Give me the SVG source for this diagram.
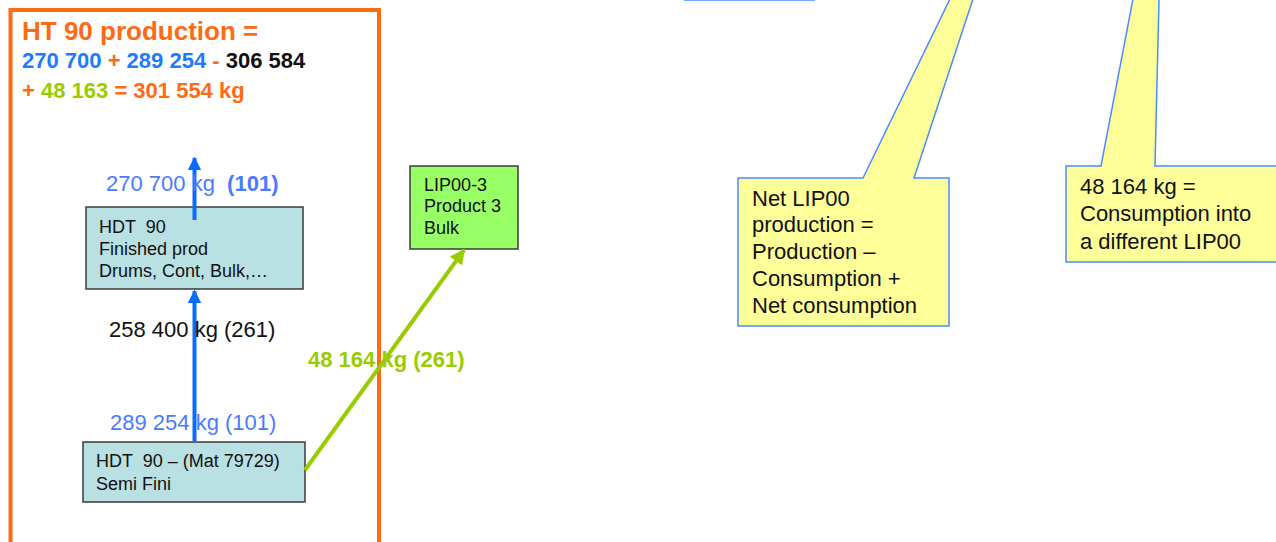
<svg xmlns="http://www.w3.org/2000/svg" width="1276" height="542" viewBox="0 0 1276 542">
<style>
text{font-family:"Liberation Sans",Arial,sans-serif}
.node{fill:#B9E0E3;stroke:#3a3a3a;stroke-width:1.5}
.lip{fill:#99FF66;stroke:#3a3a3a;stroke-width:1.5}
.call{fill:#FFFF99;stroke:#4A8CFF;stroke-width:1.5;stroke-linejoin:miter}
.t{font-size:18px;fill:#111}
.c{font-size:22px;fill:#111}
.lb{font-size:22px}
.blue{stroke:#0A6CFF;stroke-width:4;fill:none}
.green{stroke:#99CC00;stroke-width:4;fill:none}
</style>
<defs>
<marker id="ab" viewBox="0 0 10 10" refX="9" refY="5" markerWidth="3.4" markerHeight="3.6" orient="auto" markerUnits="strokeWidth"><path d="M0,0 L10,5 L0,10 z" fill="#0A6CFF"/></marker>
<marker id="ag" viewBox="0 0 10 10" refX="9" refY="5" markerWidth="3.8" markerHeight="4" orient="auto" markerUnits="strokeWidth"><path d="M0,0 L10,5 L0,10 z" fill="#99CC00"/></marker>
</defs>
<rect width="1276" height="542" fill="#fff"/>
<g id="frame">
<rect x="10.5" y="10" width="368.5" height="545" fill="none" stroke="#FF6A13" stroke-width="4"/>
<text x="22" y="40" font-size="26" font-weight="bold" fill="#FF6A13">HT 90 production =</text>
<text x="22" y="68" font-size="22" font-weight="bold"><tspan fill="#1E7BFF">270 700 </tspan><tspan fill="#FF6A13">+ </tspan><tspan fill="#1E7BFF">289 254 </tspan><tspan fill="#FF6A13">- </tspan><tspan fill="#111">306 584</tspan></text>
<text x="22" y="98" font-size="22" font-weight="bold"><tspan fill="#FF6A13">+ </tspan><tspan fill="#99CC00">48 163 </tspan><tspan fill="#FF6A13">= 301 554 kg</tspan></text>
</g>
<rect x="684" y="-2" width="131" height="3" fill="#6FA8FF"/>
<g id="hdt90">
<rect class="node" x="86" y="207" width="217" height="82"/>
<text class="t" x="99" y="233" xml:space="preserve">HDT  90</text>
<text class="t" x="99" y="255">Finished prod</text>
<text class="t" x="99" y="277">Drums, Cont, Bulk,…</text>
</g>
<g id="semi">
<rect class="node" x="83" y="442" width="222" height="60"/>
<text class="t" x="96" y="467" xml:space="preserve">HDT  90 – (Mat 79729)</text>
<text class="t" x="96" y="490">Semi Fini</text>
</g>
<g id="lip00">
<rect class="lip" x="410" y="166" width="108" height="83"/>
<text class="t" x="424" y="191">LIP00-3</text>
<text class="t" x="424" y="212">Product 3</text>
<text class="t" x="424" y="234">Bulk</text>
</g>
<g id="connectors">
<line class="blue" x1="194.5" y1="220" x2="194.5" y2="158" marker-end="url(#ab)"/>
<line class="blue" x1="194.5" y1="442" x2="194.5" y2="291" marker-end="url(#ab)"/>
<line class="green" x1="305" y1="470" x2="464" y2="250" marker-end="url(#ag)"/>
</g>
<g id="labels">
<text class="lb" x="106" y="191" fill="#4A7BFF" xml:space="preserve">270 700 kg  <tspan font-weight="bold">(101)</tspan></text>
<text class="lb" x="109" y="337" fill="#111">258 400 kg (261)</text>
<text class="lb" x="110" y="430" fill="#4A7BFF">289 254 kg (101)</text>
<text class="lb" x="308" y="367" font-weight="bold" fill="#99CC00">48 164 kg (261)</text>
</g>
<g id="callout1">
<path class="call" d="M738,178 L863,178 L950,-1 L973,-1 L914,178 L949,178 L949,326 L738,326 Z"/>
<text class="c" x="752" y="206">Net LIP00</text>
<text class="c" x="752" y="232">production =</text>
<text class="c" x="752" y="259">Production –</text>
<text class="c" x="752" y="286">Consumption +</text>
<text class="c" x="752" y="313">Net consumption</text>
</g>
<g id="callout2">
<path class="call" d="M1066,166 L1101,166 L1133,-1 L1159,-1 L1155,166 L1280,166 L1280,262 L1066,262 Z"/>
<text class="c" x="1080" y="194">48 164 kg =</text>
<text class="c" x="1080" y="221">Consumption into</text>
<text class="c" x="1080" y="249">a different LIP00</text>
</g>
</svg>
